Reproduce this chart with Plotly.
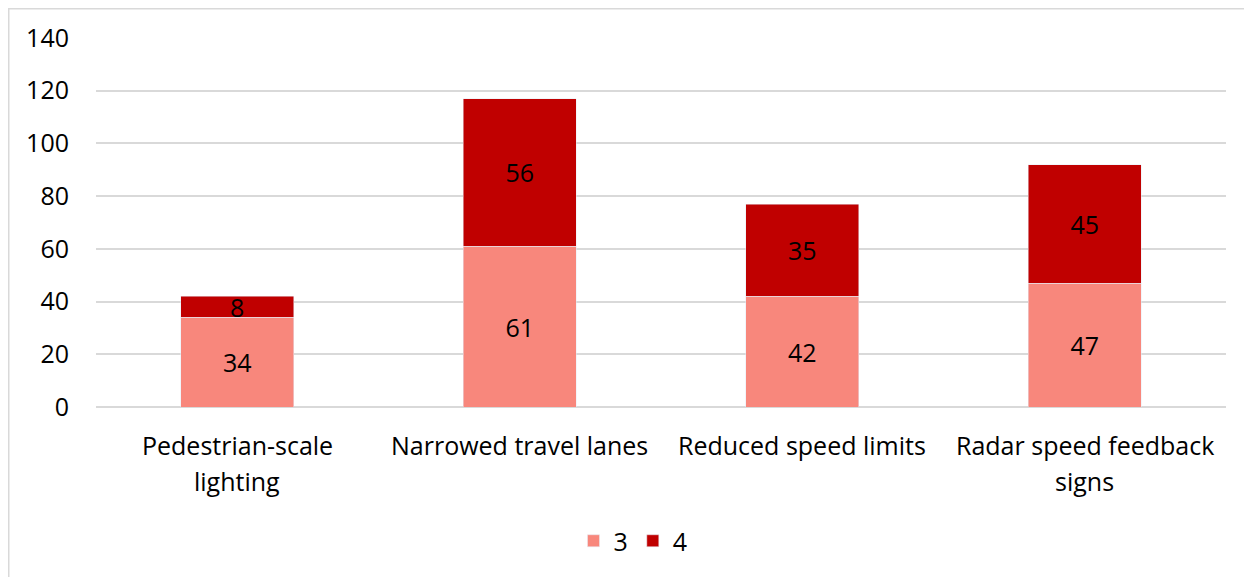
import plotly.graph_objects as go

categories = ["Pedestrian-scale lighting", "Narrowed travel lanes", "Reduced speed limits", "Radar speed feedback signs"]
label_lines = [["Pedestrian-scale", "lighting"], ["Narrowed travel lanes"], ["Reduced speed limits"], ["Radar speed feedback", "signs"]]
series_names = ["3", "4"]
values_3 = [34, 61, 42, 47]
values_4 = [8, 56, 35, 45]
y_ticks = [0, 20, 40, 60, 80, 100, 120, 140]

FONT = "Open Sans"
FS = 25
# page has an 8px body margin; figure is sized so the plot lands where the reference has it
W, H = 1244, 569
ML, MR, MT, MB = 88, 26, 30, 170
PW, PH = W - ML - MR, H - MT - MB
BOTTOM = MT + PH

fig = go.Figure()
fig.add_trace(go.Bar(x=categories, y=values_3, name=series_names[0], marker_color="#F8877C",
                     text=values_3, textposition="inside", insidetextanchor="middle",
                     textangle=0, constraintext="none",
                     textfont=dict(family=FONT, size=FS, color="#000000")))
fig.add_trace(go.Bar(x=categories, y=values_4, name=series_names[1], marker_color="#C00000",
                     text=values_4, textposition="inside", insidetextanchor="middle",
                     textangle=0, constraintext="none",
                     textfont=dict(family=FONT, size=FS, color="#000000")))

annotations = []
for cat, lines in zip(categories, label_lines):
    for i, ln in enumerate(lines):
        annotations.append(dict(x=cat, xref="x", y=0, yref="paper", yanchor="middle",
                                yshift=-(38 + 36 * i), text=ln, showarrow=False,
                                font=dict(family=FONT, size=FS, color="#000000")))

fig.update_layout(
    width=W, height=H,
    margin=dict(l=ML, r=MR, t=MT, b=MB),
    barmode="stack", bargap=0.6,
    paper_bgcolor="white", plot_bgcolor="white",
    font=dict(family=FONT, size=FS, color="#000000"),
    showlegend=True,
    legend=dict(orientation="h", x=0.5 - 28 / PW, xanchor="center", y=(BOTTOM - 533) / PH, yanchor="middle",
                font=dict(family=FONT, size=FS, color="#000000"), traceorder="normal",
                itemwidth=30),
    annotations=annotations,
    shapes=[dict(type="rect", xref="paper", yref="paper",
                 x0=(0.75 - ML) / PW, x1=1.2, y0=-0.8, y1=(BOTTOM - 0.75) / PH,
                 line=dict(color="#D9D9D9", width=1.5), fillcolor="rgba(0,0,0,0)", layer="below")],
)
fig.update_xaxes(showticklabels=False, showgrid=False, zeroline=False, showline=False)
fig.update_yaxes(range=[0, 140], tickvals=y_ticks, showgrid=True, gridcolor="#D9D9D9", gridwidth=1.5,
                 zeroline=True, zerolinecolor="#D9D9D9", zerolinewidth=1.5, showline=False,
                 ticklabelstandoff=26, tickfont=dict(family=FONT, size=FS, color="#000000"))

fig.write_html("out.html")
